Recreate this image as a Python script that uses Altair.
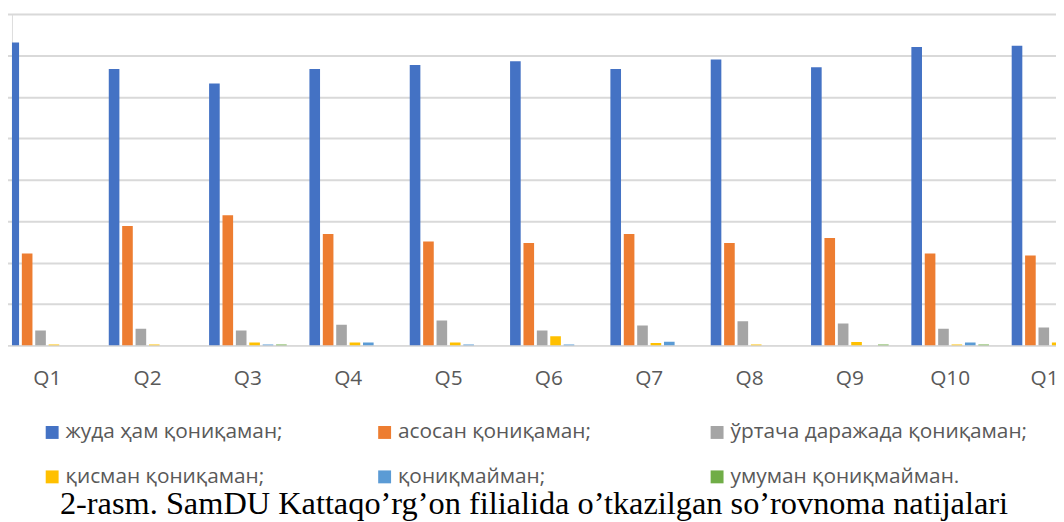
import altair as alt
import pandas as pd

questions = ["Q1", "Q2", "Q3", "Q4", "Q5", "Q6", "Q7", "Q8", "Q9", "Q10", "Q11"]
series_names = [
    "жуда ҳам қониқаман;",
    "асосан қониқаман;",
    "ўртача даражада қониқаман;",
    "қисман қониқаман;",
    "қониқмайман;",
    "умуман қониқмайман.",
]
colors = ["#4472C4", "#ED7D31", "#A5A5A5", "#FFC000", "#5B9BD5", "#70AD47"]

very_satisfied = [73.1, 66.7, 63.2, 66.7, 67.7, 68.6, 66.7, 69.0, 67.1, 72.0, 72.3]
mostly_satisfied = [22.2, 28.8, 31.4, 26.9, 25.1, 24.7, 26.9, 24.7, 25.9, 22.2, 21.7]
average_satisfied = [3.6, 4.0, 3.6, 5.0, 6.0, 3.6, 4.8, 5.8, 5.3, 4.0, 4.3]
partly_satisfied = [0.2, 0.2, 0.7, 0.7, 0.7, 2.2, 0.6, 0.2, 0.8, 0.2, 0.7]
not_satisfied = [0.0, 0.0, 0.2, 0.7, 0.2, 0.2, 0.9, 0.0, 0.0, 0.7, 0.2]
not_at_all = [0.0, 0.0, 0.2, 0.0, 0.0, 0.0, 0.0, 0.0, 0.2, 0.2, 0.0]

title_text = "2-rasm. SamDU Kattaqo’rg’on filialida o’tkazilgan so’rovnoma natijalari"

all_series = [very_satisfied, mostly_satisfied, average_satisfied,
              partly_satisfied, not_satisfied, not_at_all]
rows = []
for name, vals in zip(series_names, all_series):
    for q, v in zip(questions, vals):
        rows.append({"q": q, "series": name, "v": v})
df = pd.DataFrame(rows)

chart = alt.Chart(df).mark_bar(clip=True).encode(
    x=alt.X(
        "q:N", sort=questions,
        scale=alt.Scale(range=[-15, 1097], paddingInner=0, paddingOuter=0),
        axis=alt.Axis(title=None, labelAngle=0, ticks=False, domain=False,
                      labelFont="Open Sans", labelFontSize=21, labelColor="#595959",
                      labelPadding=22),
    ),
    xOffset=alt.XOffset("series:N", sort=series_names,
                        scale=alt.Scale(paddingInner=0.207, paddingOuter=0.848)),
    y=alt.Y(
        "v:Q", scale=alt.Scale(domain=[0, 80]),
        axis=alt.Axis(title=None, labels=False, ticks=False, domain=False, grid=True,
                      values=[0, 10, 20, 30, 40, 50, 60, 70, 80],
                      gridColor="#d9d9d9", gridWidth=2),
    ),
    color=alt.Color(
        "series:N", sort=series_names,
        scale=alt.Scale(domain=series_names, range=colors),
        legend=alt.Legend(
            title=None, orient="none", legendX=30, legendY=411, columns=3,
            direction="horizontal",
            gridAlign="all", symbolType="square", symbolSize=169,
            symbolStrokeWidth=0, labelFont="Open Sans", labelFontSize=21,
            labelColor="#595959", labelOffset=3, labelLimit=500,
            columnPadding=11, rowPadding=23, padding=0,
        ),
    ),
).properties(
    width=1052, height=334,
    title=alt.TitleParams(text=title_text, orient="top", font="Liberation Serif",
                          fontSize=32.6, fontWeight="normal", color="#000000",
                          anchor="middle", offset=0, baseline="alphabetic",
                          dy=536),
    autosize=alt.AutoSizeParams(type="none"),
    padding={"left": 4, "top": 4, "right": 0, "bottom": 176},
).configure_view(stroke=None).configure(background="white")

chart.save("out.html", embed_options={"renderer": "svg", "actions": False})
